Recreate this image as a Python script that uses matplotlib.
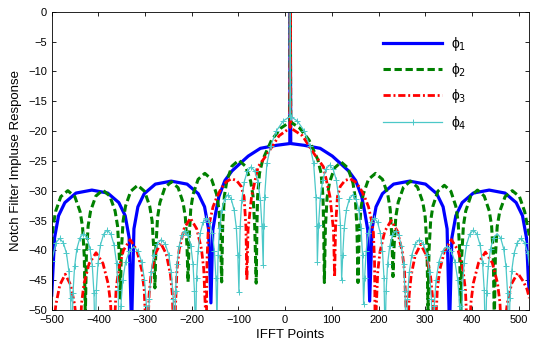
import numpy as np
import matplotlib.pyplot as plt

plt.rcParams['font.family'] = ['Liberation Sans', 'DejaVu Sans']

# phi_1 (blue)
x1 = [-500, -493.9, -485.4, -471.8, -448, -414, -380, -356.2, -342.6, -334.1, -329,
      -323.9, -315.4, -301.8, -278, -244, -210, -186.2, -172.6, -164.1, -159,
      -155, -149, -142, -129, -114, -96, -79, -53, -19, 10, 11, 12,
      41, 75, 101, 118, 136, 151, 164, 171, 177, 181,
      186.1, 194.7, 208.4, 232.3, 266.5, 300.7, 324.6, 338.3, 346.9, 352,
      357.1, 365.6, 379.2, 403, 437, 471, 494.8, 508.4, 516.9, 521, 523]
y1 = [-47.5, -37.9, -34.2, -32.0, -30.4, -29.9, -30.4, -32.0, -34.2, -37.9, -53,
      -36.4, -32.7, -30.5, -28.9, -28.4, -28.9, -30.5, -32.7, -36.4, -48.8,
      -36.6, -33.8, -31, -28.3, -26.7, -25.4, -24.2, -22.9, -22.4, -22.1, 0, -22.1,
      -22.4, -22.9, -24.2, -25.4, -26.7, -28.3, -31, -33.8, -36.6, -48.5,
      -36.4, -32.7, -30.5, -28.9, -28.4, -28.9, -30.5, -32.7, -36.4, -53,
      -37.9, -34.2, -32.0, -30.4, -29.9, -30.4, -32.0, -34.2, -37.9, -45, -47]

# phi_2 (green)
x2 = [-500, -497, -491.75, -480.5, -465.5, -450.5, -439.25, -434, -430.25, -428,
      -425.75, -422, -416.75, -405.5, -390.5, -375.5, -364.25, -359, -355.25, -353,
      -350.8, -347.1, -341.9, -330.8, -316, -301.2, -290.1, -284.9, -281.2, -279,
      -276.9, -273.3, -268.3, -257.7, -243.5, -229.3, -218.6, -213.7, -210.1, -208,
      -205.8, -202.2, -197.2, -186.4, -172, -157.6, -146.8, -141.8, -138.2, -136,
      -133.8, -130.2, -125, -114.1, -99.5, -84.9, -73.9, -68.8, -65.2, -62,
      -60.5, -59, -55, -48, -29, -9, 10, 11, 12, 31, 51, 70, 77, 81, 82.5, 84,
      86.2, 89.8, 94.8, 105.6, 120, 134.4, 145.2, 150.2, 153.8, 156,
      158.25, 162, 167.25, 178.5, 193.5, 208.5, 219.75, 225, 228.75, 231,
      233.25, 237, 242.25, 253.5, 268.5, 283.5, 294.75, 300, 303.75, 306,
      308.1, 311.6, 316.5, 327, 341, 355, 365.5, 370.4, 373.9, 376,
      378.2, 381.8, 386.8, 397.6, 412, 426.4, 437.2, 442.2, 445.8, 448,
      450.3, 454.2, 459.6, 471.1, 486.5, 501.9, 513, 523]
y2 = [-39, -36, -33.5, -31, -30, -31, -33.5, -36, -41, -51,
      -40.9, -35.9, -33.4, -30.9, -29.9, -30.9, -33.4, -35.9, -40.9, -48,
      -40.1, -35.1, -32.6, -30.1, -29.1, -30.1, -32.6, -35.1, -40.1, -46.3,
      -39.5, -34.5, -32, -29.5, -28.5, -29.5, -32, -34.5, -39.5, -45.3,
      -38.1, -33.1, -30.6, -28.1, -27.1, -28.1, -30.6, -33.1, -38.1, -45.3,
      -35.9, -30.9, -28.4, -25.9, -24.9, -25.9, -28.4, -30.9, -35.9, -45.5,
      -36, -31, -27.1, -24.8, -21.5, -19.5, -18.5, 0, -18.5, -19.5, -21.5, -24.8, -27.1, -31, -36, -45.4,
      -36.2, -31.2, -28.7, -26.2, -25.2, -26.2, -28.7, -31.2, -36.2, -45.4,
      -38.1, -33.1, -30.6, -28.1, -27.1, -28.1, -30.6, -33.1, -38.1, -44.4,
      -39.4, -34.4, -31.9, -29.4, -28.4, -29.4, -31.9, -34.4, -39.4, -50,
      -40.1, -35.1, -32.6, -30.1, -29.1, -30.1, -32.6, -35.1, -40.1, -52,
      -40.9, -35.9, -33.4, -30.9, -29.9, -30.9, -33.4, -35.9, -40.9, -52,
      -41, -36, -33.5, -31, -30, -31, -33.5, -37.5]

# phi_3 (red)
x3 = [-500, -498.3, -495.4, -491.3, -482.6, -471, -459.4, -450.7, -446.6, -443.7, -442,
      -439.8, -436.1, -430.9, -419.8, -405, -390.2, -379.1, -373.9, -370.2, -368,
      -365.8, -362.2, -357.2, -346.4, -332, -317.6, -306.8, -301.8, -298.2, -296,
      -294.2, -291.3, -287.1, -278.3, -266.5, -254.7, -245.8, -241.7, -238.8, -237,
      -235, -231.6, -226.8, -216.6, -203, -189.4, -179.2, -174.4, -171, -169,
      -167.5, -165, -161, -154.5, -147, -137, -126, -115, -104, -94, -88, -84, -82,
      -79.5, -72, -58, -37, -13, 10, 11, 12, 37, 61, 82, 96, 103.5, 106,
      108, 112, 118, 128, 139, 150, 161, 171, 178.5, 185, 189, 191.5, 193,
      195, 198.4, 203.2, 213.4, 227, 240.6, 250.8, 255.6, 259, 261,
      262.8, 265.7, 269.9, 278.7, 290.5, 302.3, 311.2, 315.3, 318.2, 320,
      322.2, 325.8, 330.8, 341.6, 356, 370.4, 381.2, 386.2, 389.8, 392,
      394.2, 397.9, 403.1, 414.2, 429, 443.8, 454.9, 460.1, 463.8, 466,
      467.9, 471, 475.5, 485, 498, 510, 518, 523]
y3 = [-62, -59, -52.5, -49.2, -45.8, -44, -45.8, -49.2, -52.5, -59, -62,
      -55.4, -48.9, -45.6, -42.2, -40.4, -42.2, -45.6, -48.9, -55.4, -60,
      -53.2, -46.7, -43.4, -40.0, -38.2, -40.0, -43.4, -46.7, -53.2, -58,
      -53.8, -47.3, -44.0, -40.6, -38.8, -40.6, -44.0, -47.3, -53.8, -58,
      -49.6, -43.1, -39.8, -36.4, -34.6, -36.4, -39.8, -43.1, -49.6, -56,
      -42, -37, -35, -32.7, -31.2, -29.6, -28.5, -28, -28.3, -29.3, -31, -36, -45,
      -36.6, -31, -26, -23.7, -20.8, -19.5, 0, -19.5, -20.8, -23.7, -26, -31, -36.6, -44.5,
      -36, -31, -29.3, -28.3, -28, -28.5, -29.6, -31.2, -32.7, -35, -37, -42, -56,
      -50, -43.5, -40.2, -36.8, -35, -36.8, -40.2, -43.5, -50, -58,
      -54, -47.5, -44.2, -40.8, -39, -40.8, -44.2, -47.5, -54, -60,
      -53.2, -46.7, -43.4, -40, -38.2, -40, -43.4, -46.7, -53.2, -58,
      -55.3, -48.8, -45.5, -42.1, -40.3, -42.1, -45.5, -48.8, -55.3, -60,
      -58.8, -52.3, -49, -45.6, -43.8, -45.2, -46.5, -48]

# phi_4 (cyan)
x4 = [-500, -490.8, -483, -475.2, -468.4, -463.2, -459.6, -457,
      -454.5, -451, -446, -439.5, -432, -424.5, -418, -413, -409.5, -407,
      -404.4, -400.8, -395.6, -388.8, -381, -373.2, -366.4, -361.2, -357.6, -355,
      -352, -347.7, -341.6, -333.6, -324.5, -315.3, -307.4, -301.3, -297, -294,
      -291.2, -287.2, -281.5, -274, -265.5, -257, -249.5, -243.8, -239.8, -237,
      -234.8, -231.6, -227.1, -221.3, -214.5, -207.8, -201.9, -197.4, -194.3, -192,
      -189.7, -186.5, -181.9, -175.9, -169, -162.1, -156.1, -151.5, -148.3, -146,
      -143.7, -140.4, -135.7, -129.6, -122.5, -115.5, -109.3, -104.6, -101.4, -99,
      -96.4, -92.8, -87.6, -80.8, -73, -65.2, -58.4, -53.2, -49.6, -47,
      -46, -44, -39, -31, -19, -4, 10, 11, 12, 26, 41, 53, 61, 66, 68, 69,
      71.6, 75.2, 80.4, 87.2, 95, 102.8, 109.6, 114.8, 118.4, 121,
      123.4, 126.6, 131.3, 137.5, 144.5, 151.6, 157.7, 162.4, 165.7, 168,
      170.3, 173.5, 178.1, 184.1, 191, 197.9, 203.9, 208.5, 211.7, 214,
      216.3, 219.4, 223.9, 229.8, 236.5, 243.3, 249.1, 253.6, 256.8, 259,
      261.9, 265.8, 271.5, 279, 287.5, 296, 303.5, 309.2, 313.2, 316,
      319.1, 323.3, 329.4, 337.4, 346.5, 355.7, 363.6, 369.7, 374, 377,
      379.6, 383.2, 388.4, 395.2, 403, 410.8, 417.6, 422.8, 426.4, 429,
      431.5, 435, 440, 446.5, 454, 461.5, 468, 473, 476.5, 479,
      481.6, 485.2, 490.4, 497.2, 505, 512.8, 519.6, 523]
y4 = [-41.8, -38.7, -38, -38.7, -40.5, -43.5, -48, -56,
      -47.2, -42.7, -39.7, -37.9, -37.2, -37.9, -39.7, -42.7, -47.2, -56,
      -46.6, -42.1, -39.1, -37.3, -36.6, -37.3, -39.1, -42.1, -46.6, -56,
      -49.4, -44.9, -41.9, -40.1, -39.4, -40.1, -41.9, -44.9, -49.4, -57,
      -48.2, -43.7, -40.7, -38.9, -38.2, -38.9, -40.7, -43.7, -48.2, -56,
      -46.8, -42.3, -39.3, -37.5, -36.8, -37.5, -39.3, -42.3, -46.8, -55,
      -44.6, -40.1, -37.1, -35.3, -34.6, -35.3, -37.1, -40.1, -44.6, -52,
      -40.7, -36.2, -33.2, -31.4, -30.7, -31.4, -33.2, -36.2, -40.7, -47,
      -36, -31.5, -28.5, -26.7, -26, -26.7, -28.5, -31.5, -36, -42.5,
      -36, -31, -25.4, -22.5, -20, -18.3, -17.6, 0, -17.6, -18.3, -20, -22.5, -25.4, -31, -36, -42,
      -35.7, -31.2, -28.2, -26.4, -25.7, -26.4, -28.2, -31.2, -35.7, -45,
      -40.7, -36.2, -33.2, -31.4, -30.7, -31.4, -33.2, -36.2, -40.7, -49,
      -44.6, -40.1, -37.1, -35.3, -34.6, -35.3, -37.1, -40.1, -44.6, -55,
      -46.8, -42.3, -39.3, -37.5, -36.8, -37.5, -39.3, -42.3, -46.8, -56,
      -48.2, -43.7, -40.7, -38.9, -38.2, -38.9, -40.7, -43.7, -48.2, -57,
      -49.4, -44.9, -41.9, -40.1, -39.4, -40.1, -41.9, -44.9, -49.4, -57,
      -46.6, -42.1, -39.1, -37.3, -36.6, -37.3, -39.1, -42.1, -46.6, -56,
      -47.2, -42.7, -39.7, -37.9, -37.2, -37.9, -39.7, -42.7, -47.2, -56,
      -48, -43.5, -40.5, -38.7, -38, -38.7, -40.5, -42.5]

labels = ['\u03d5$_1$', '\u03d5$_2$', '\u03d5$_3$', '\u03d5$_4$']

fig = plt.figure(figsize=(5.37, 3.41), dpi=100)
ax = fig.add_axes([0.0963, 0.0909, 0.8894, 0.8748])

ax.plot(x1, y1, color='#0000ff', lw=2.3, label=labels[0])
ax.plot(x2, y2, color='#008000', lw=2.2, dashes=(2.4, 1.2), label=labels[1])
ax.plot(x3, y3, color='#ff0000', lw=2.0, dashes=(2.6, 1.0, 0.7, 1.0), label=labels[2])
ax.plot(x4, y4, color='#4cc8c8', lw=0.9, marker='+', ms=4, mew=0.7,
        markevery=0.012, label=labels[3])

ax.set_xlim(-500, 523)
ax.set_ylim(-50, 0)
ax.set_xticks(np.arange(-500, 501, 100))
ax.set_yticks(np.arange(-50, 1, 5))
ax.tick_params(direction='in', top=True, right=True, labelsize=8, length=3, width=0.6)
for s in ax.spines.values():
    s.set_linewidth(0.6)

ax.set_xlabel('IFFT Points', fontsize=9.5, labelpad=3)
ax.set_ylabel('Notch Filter Impluse Response', fontsize=9.5, labelpad=4)

leg = ax.legend(loc='upper left', bbox_to_anchor=(0.667, 0.965), frameon=False,
                fontsize=10, handlelength=4.3, labelspacing=0.6, handletextpad=0.6)

fig.savefig('out.png', dpi=100)
